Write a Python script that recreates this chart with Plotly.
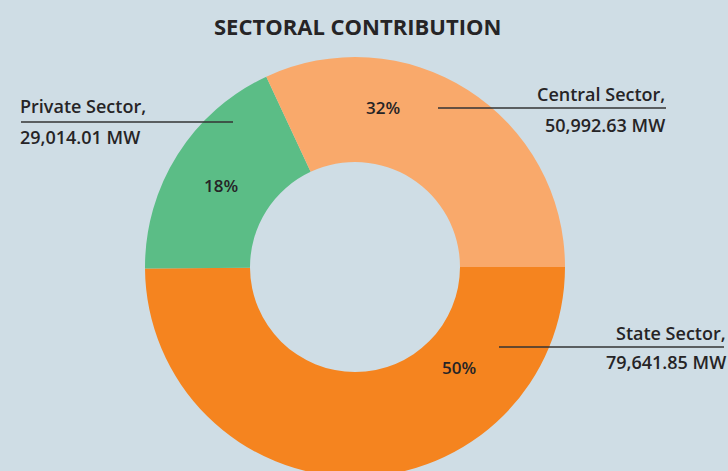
import plotly.graph_objects as go

# ---- data ----
sectors = ["State Sector", "Private Sector", "Central Sector"]
capacity_mw = [79641.85, 29014.01, 50992.63]
colors = ["#f5841f", "#5bbd86", "#f9a96b"]
title_text = "SECTORAL CONTRIBUTION"

W, H = 728, 480
BG = "#cfdde5"
TXT = "#262426"
FONT = "Open Sans"


def px(x, y):
    return x / W, 1 - y / H


total = sum(capacity_mw)
pcts = [round(v / total * 100) for v in capacity_mw]

fig = go.Figure()
x0, y1 = px(145, 57)
x1, y0 = px(565, 477)
fig.add_trace(go.Pie(
    labels=sectors,
    values=capacity_mw,
    marker=dict(colors=colors, line=dict(width=0)),
    hole=0.5,
    sort=False,
    direction="clockwise",
    rotation=90,
    textinfo="none",
    hoverinfo="label+value+percent",
    showlegend=False,
    domain=dict(x=[x0, x1], y=[y0, y1]),
))

annotations = []
shapes = []

# title
tx, ty = px(357, 26)
annotations.append(dict(x=tx, y=ty, xref="paper", yref="paper", text=title_text,
                        showarrow=False, xanchor="center", yanchor="middle",
                        font=dict(family=FONT, size=22, color=TXT, weight=700)))

# percent labels (positions per slice)
pct_pos = {"State Sector": (459, 367), "Private Sector": (221, 186), "Central Sector": (383, 108)}
for s, p in zip(sectors, pcts):
    ax, ay = px(*pct_pos[s])
    annotations.append(dict(x=ax, y=ay, xref="paper", yref="paper", text=f"{p}%",
                            showarrow=False, xanchor="center", yanchor="middle",
                            font=dict(family=FONT, size=17, color=TXT, weight=600)))

# outside labels with leader lines
label_cfg = {
    "Private Sector": dict(line=(21, 233, 122), tx=18, anchor="left", y1=106, y2=137),
    "Central Sector": dict(line=(438, 666, 108), tx=667, anchor="right", y1=94, y2=125),
    "State Sector": dict(line=(499, 724, 347), tx=728, anchor="right", y1=333, y2=362),
}
for s, v in zip(sectors, capacity_mw):
    c = label_cfg[s]
    lx0, ly = px(c["line"][0], c["line"][2])
    lx1, _ = px(c["line"][1], c["line"][2])
    shapes.append(dict(type="line", xref="paper", yref="paper", x0=lx0, x1=lx1, y0=ly, y1=ly,
                       line=dict(color="#333333", width=1.5)))
    ax, ay1 = px(c["tx"], c["y1"])
    _, ay2 = px(c["tx"], c["y2"])
    annotations.append(dict(x=ax, y=ay1, xref="paper", yref="paper", text=f"{s},",
                            showarrow=False, xanchor=c["anchor"], yanchor="middle",
                            font=dict(family=FONT, size=18, color=TXT, weight=600)))
    annotations.append(dict(x=ax, y=ay2, xref="paper", yref="paper", text=f"{v:,.2f} MW",
                            showarrow=False, xanchor=c["anchor"], yanchor="middle",
                            font=dict(family=FONT, size=18, color=TXT, weight=600)))

fig.update_layout(
    width=W, height=H,
    margin=dict(l=0, r=0, t=0, b=0),
    paper_bgcolor=BG, plot_bgcolor=BG,
    annotations=annotations, shapes=shapes,
)

fig.write_html("out.html",
               post_script="document.body.style.margin='0';document.body.style.overflow='hidden';document.documentElement.style.overflow='hidden';")
